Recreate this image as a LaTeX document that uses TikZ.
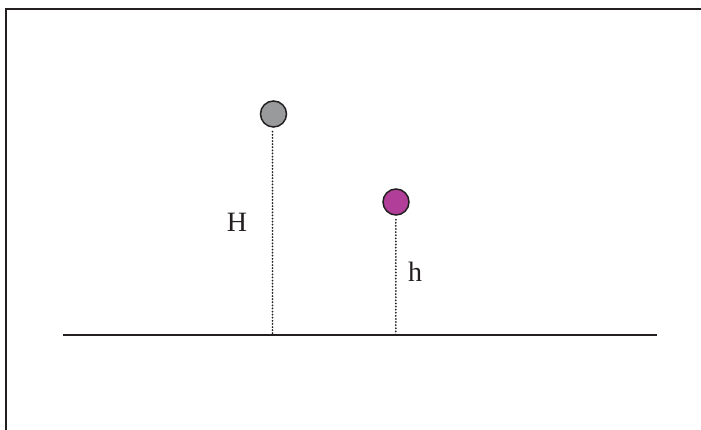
\documentclass[tikz,border=0pt]{standalone}
\usepackage{tikz}
\usepackage{fontspec}
\newfontfamily\labelfont{Liberation Serif}

\definecolor{framegray}{HTML}{231F20}
\definecolor{ballgray}{HTML}{999A9C}
\definecolor{ballpink}{HTML}{B13E98}

\tikzset{
  ball/.style={circle, draw=framegray, line width=1.5pt, minimum size=26pt, inner sep=0pt},
  drop/.style={draw=framegray, line width=2pt, line cap=round, dash pattern=on 0pt off 3.1pt},
  hlabel/.style={anchor=base, font=\labelfont\fontsize{28}{30}\selectfont, text=framegray}
}

\begin{document}
\begin{tikzpicture}[x=1pt, y=1pt]
  \useasboundingbox (0,0) rectangle (701,430);

  % Frame (only top and left edges show)
  \draw[framegray, line width=2.2pt] (6,0) -- (6,421) -- (701,421);

  % Ground
  \coordinate (g1) at (63,95);
  \coordinate (g2) at (657,95);
  \draw[framegray, line width=2.2pt] (g1) -- (g2);

  % Balls
  \node[ball, fill=ballgray] (high) at (273.5,316) {};
  \node[ball, fill=ballpink] (low) at (396,228) {};

  \coordinate (fh) at (272.5,95);
  \coordinate (fl) at (395.8,95);

  % Dotted heights
  \path[drop] ([yshift=-4pt]high.south -| fh) -- (fh);
  \path[drop] ([yshift=-4pt]low.south -| fl) -- (fl);

  % Labels
  \node[hlabel] (H) at (237,198) {H};
  \node[hlabel] (h) at (415,148) {h};
\end{tikzpicture}
\end{document}
